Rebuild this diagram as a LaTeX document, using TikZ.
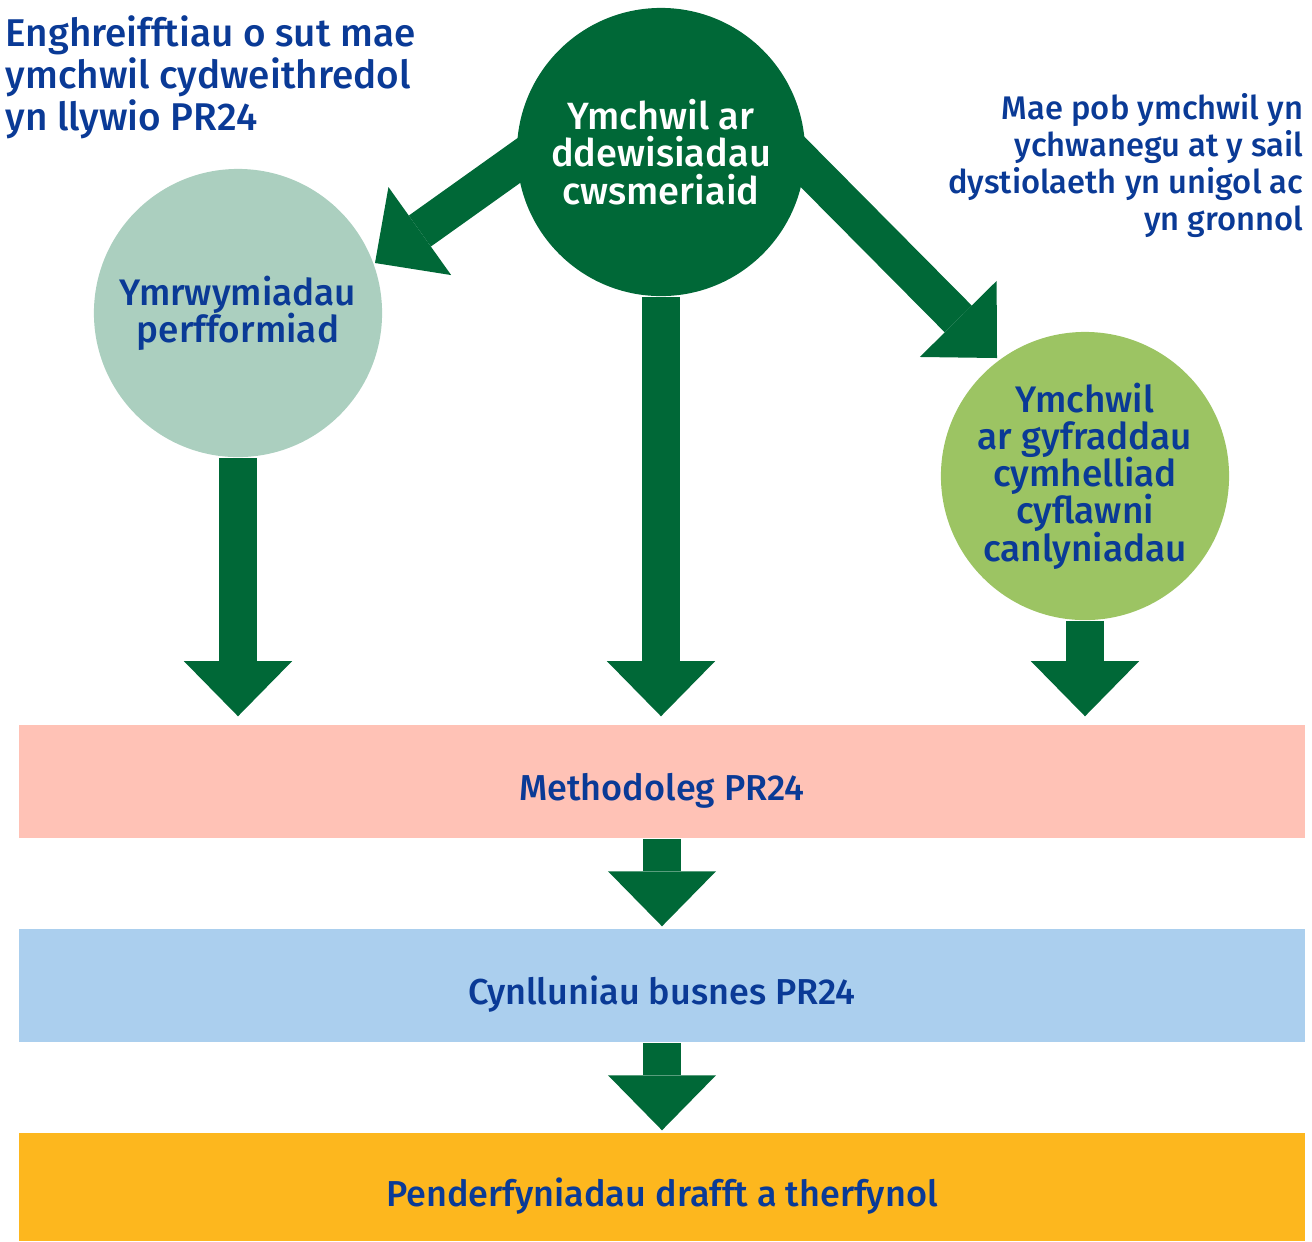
\documentclass[tikz,border=0pt]{standalone}
\usepackage{fontspec}
\setmainfont{Fira Sans}[UprightFont={* Medium}]
\usetikzlibrary{arrows.meta,backgrounds}

\definecolor{ofgreen}{HTML}{006837}
\definecolor{ofblue}{HTML}{0A3A96}
\definecolor{sage}{HTML}{ABCFBF}
\definecolor{leaf}{HTML}{9CC463}
\definecolor{salmon}{HTML}{FFC2B6}
\definecolor{sky}{HTML}{ABCFEE}
\definecolor{amber}{HTML}{FDB71E}

\newcommand\snugleading{\lineskiplimit=-10pt\relax}

\tikzset{
    flow/.style={draw=ofgreen, line width=0.38cm,
        -{Triangle[length=0.55cm,width=1.08cm,line width=0pt]}},
    bubble/.style={circle, minimum size=2.88cm, inner sep=0pt, align=center,
        text=ofblue, font=\fontsize{10.5}{10.6}\selectfont\snugleading},
    band/.style={minimum width=12.86cm, minimum height=1.13cm, inner sep=0pt,
        text height=11pt, text depth=0pt,
        text=ofblue, font=\fontsize{10.25}{11}\selectfont},
}

\begin{document}
\begin{tikzpicture}[x=0.01cm, y=-0.01cm]
            \useasboundingbox (0,0) rectangle (1312,1241);

            \node[anchor=north west, inner sep=0pt, align=left, text=ofblue,
                font=\fontsize{11}{11.95}\selectfont] (title) at (5,15)
                {Enghreifftiau o sut mae\\ymchwil cydweithredol\\yn llywio PR24};
            \node[anchor=north east, inner sep=0pt, align=right, text=ofblue,
                font=\fontsize{9.3}{10.5}\selectfont] (note) at (1304,93)
                {Mae pob ymchwil yn\\ychwanegu at y sail\\dystiolaeth yn unigol ac\\yn gronnol};

            \node[bubble, fill=ofgreen, text=white,
                font=\fontsize{10.8}{10.6}\selectfont\snugleading]
                (choice) at (661,152) {Ymchwil ar\\ddewisiadau\\cwsmeriaid};
            \node[bubble, fill=sage] (perf) at (238,313)
                {Ymrwymiadau\\perfformiad};
            \node[bubble, fill=leaf] (odi) at (1085,476)
                {Ymchwil\\ar gyfraddau\\cymhelliad\\cyflawni\\canlyniadau};

            \node[band, fill=salmon] (method) at (662,781.5)
                {Methodoleg PR24};
            \node[band, fill=sky] (plans) at (662,985.5)
                {Cynlluniau busnes PR24};
            \node[band, fill=amber, minimum height=1.08cm] (final) at (662,1187)
                {Penderfyniadau drafft a therfynol};

            \coordinate (tipL) at (375,263);
            \coordinate (tipR) at (997,358);

            \begin{scope}[on background layer]
            \draw[flow, shorten <=-0.4cm] (choice.184) -- (tipL);
            \draw[flow, shorten <=-0.4cm] (choice.-5) -- (tipR);

            \draw[flow, shorten >=0.08cm] (perf) -- (perf |- method.north);
            \draw[flow, shorten >=0.08cm] (choice) -- (choice |- method.north);
            \draw[flow, shorten >=0.08cm] (odi) -- (odi |- method.north);

            \draw[flow, shorten >=0.02cm] (method) -- (plans);
            \draw[flow, shorten >=0.02cm] (plans) -- (final);
            \end{scope}
\end{tikzpicture}
\end{document}
